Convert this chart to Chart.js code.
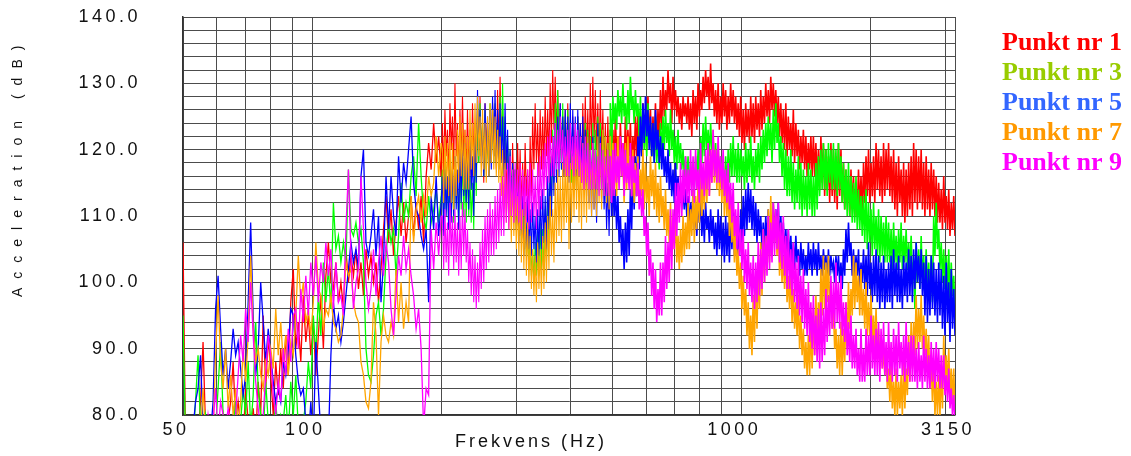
<!DOCTYPE html>
<html>
<head>
<meta charset="utf-8">
<script src="https://cdn.jsdelivr.net/npm/chart.js@4.4.1/dist/chart.umd.min.js"></script>
<style>
  html, body { margin: 0; padding: 0; background: #ffffff; }
  canvas { display: block; }
</style>
</head>
<body>
<canvas id="spectrum" width="1131" height="456"></canvas>
<script>
// Measurement points and their colours
const seriesNames = ['Punkt nr 1', 'Punkt nr 3', 'Punkt nr 5', 'Punkt nr 7', 'Punkt nr 9'];
const lineColours = ['#ff0000', '#00ff00', '#0000ff', '#ffa500', '#ff00ff'];
const legendColours = ['#ff0000', '#99cc00', '#3366ff', '#ff9900', '#ff00ff'];

// Axis ticks
const xGridValues = [50, 60, 70, 80, 90, 100, 200, 300, 400, 500, 600, 700, 800, 900, 1000, 2000, 3000, 3150];
const xLabelValues = [50, 100, 1000, 3150];
const yMin = 80, yMax = 140, yGridStep = 2, yLabelStep = 10;

// Analysis frequencies (Hz), log-spaced 50-3150 Hz in 308 steps;
// half-step resolution above ~200 Hz
const binFreq = (k) => 50 * Math.pow(3150 / 50, k / 308);
const freqHz = [
  ...Array.from({ length: 104 }, (_, i) => binFreq(i)),
  ...Array.from({ length: 136 }, (_, j) => binFreq(103 + (j + 1) / 2)),
  ...Array.from({ length: 274 }, (_, j) => binFreq(171 + (j + 1) / 2))
];

// Acceleration levels (dB) per bin
const punkt1 = [
  106, 76, 76, 78, 76, 79, 77, 82, 91, 78,
  77, 76, 79, 76, 78, 77, 80, 76, 79, 82,
  88, 79, 82, 78, 76, 84, 79, 77, 81, 76,
  85, 80, 95, 84, 92, 86, 80, 88, 83, 90,
  84, 92, 86, 97, 102, 90, 94, 88, 98, 91,
  95, 89, 94, 86, 92, 98, 90, 101, 106, 100,
  99, 103, 97, 100, 96, 105, 100, 104, 101, 105,
  99, 103, 98, 105, 101, 104, 100, 103, 97, 102,
  108, 113, 106, 111, 104, 109, 113, 107, 112, 106,
  110, 113, 107, 112, 108, 113, 106, 116, 121, 117,
  124, 118, 122, 116,

  124, 116, 126, 119, 123, 115, 127, 120, 125, 117, 130, 119, 124, 116, 126, 118, 128, 119, 123, 116,
  126, 117, 122, 115, 127, 119, 124, 116, 126, 118, 128, 119, 123, 115, 127, 120, 124, 116, 126, 118,
  127, 119, 124, 117, 129, 120, 131, 121, 126, 117, 121, 113, 120, 112, 118, 110, 121, 113, 117, 110,
  121, 112, 120, 111, 118, 110, 121, 113, 117, 109, 122, 113, 125, 117, 127, 118, 124, 116, 126, 117,
  125, 117, 128, 119, 126, 118, 130, 121, 132, 123, 131, 122, 129, 120, 127, 118, 125, 116, 126, 117,
  127, 118, 124, 116, 125, 115, 123, 114, 125, 116, 124, 115, 127, 118, 128, 119, 126, 117, 130, 120,
  131, 121, 129, 120, 127, 118, 129, 119, 126, 117, 124, 116, 125, 115, 123, 116,

  123, 117, 125, 119, 122, 116, 124, 118, 121, 117, 125, 118, 123, 119, 124, 117, 122, 118, 125, 119,
  126, 120, 124, 119, 127, 121, 125, 120, 128, 121, 126, 119, 125, 121, 127, 120, 126, 122, 129, 123,
  131, 125, 129, 126, 132, 127, 130, 124, 131, 126, 129, 125, 128, 124, 127, 123, 128, 125, 127, 124,
  128, 123, 127, 122, 129, 124, 128, 123, 130, 125, 129, 126, 131, 127, 132, 128, 131, 126, 133, 127,
  130, 125, 129, 124, 130, 123, 128, 124, 130, 125, 129, 123, 128, 124, 130, 125, 129, 124, 128, 123,
  127, 122, 128, 121, 126, 120, 127, 122, 126, 121, 128, 122, 127, 121, 128, 123, 127, 122, 129, 123,
  128, 124, 130, 125, 129, 124, 131, 126, 130, 125, 129, 124, 128, 122, 127, 121, 126, 120, 127, 119,
  125, 120, 124, 119, 126, 118, 124, 119, 123, 117, 122, 118, 123, 117, 122, 116, 121, 117, 122, 116,
  122, 116, 121, 115, 120, 114, 122, 115, 121, 113, 120, 114, 119, 112, 121, 113, 120, 112, 119, 111,
  121, 113, 120, 112, 118, 111, 117, 112, 116, 110, 117, 111, 116, 110, 115, 110, 117, 111, 116, 110,
  118, 112, 119, 113, 120, 112, 118, 113, 119, 112, 121, 114, 120, 113, 119, 112, 121, 113, 120, 114,
  121, 113, 119, 112, 120, 111, 118, 110, 119, 112, 117, 110, 118, 109, 117, 110, 118, 111, 119, 110,
  121, 112, 120, 111, 119, 112, 120, 111, 118, 110, 119, 111, 117, 110, 118, 111, 117, 110, 116, 109,
  115, 109, 114, 108, 116, 109, 113, 108, 114, 107, 112, 108, 113, 107
];
const punkt3 = [
  95, 76, 77, 79, 76, 82, 89, 78, 76, 80,
  77, 79, 76, 78, 84, 91, 80, 77, 76, 79,
  78, 82, 76, 79, 84, 80, 88, 78, 83, 94,
  84, 80, 77, 85, 79, 76, 78, 82, 77, 80,
  79, 83, 77, 85, 80, 86, 78, 76, 79, 82,
  88, 84, 95, 89, 98, 92, 103, 97, 102, 96,
  112, 105, 107, 103, 106, 103, 117, 108, 107, 109,
  106, 108, 103, 90, 86, 85, 89, 95, 97, 92,
  96, 104, 109, 106, 108, 101, 107, 115, 109, 112,
  110, 116, 119, 113, 124, 116, 110, 108, 113, 109,
  111, 114, 109, 113,

  117, 109, 119, 111, 116, 108, 118, 110, 117, 109, 119, 112, 116, 108, 118, 111, 119, 110, 117, 109,
  118, 110, 116, 109, 115, 108, 121, 113, 126, 118, 127, 119, 124, 116, 126, 117, 123, 116, 127, 118,
  126, 118, 127, 119, 124, 117, 128, 119, 130, 120, 125, 117, 122, 114, 120, 111, 118, 110, 116, 108,
  115, 107, 116, 106, 112, 105, 111, 104, 108, 102, 107, 101, 105, 100, 106, 101, 108, 101, 109, 102,
  108, 101, 111, 103, 114, 106, 119, 111, 123, 115, 127, 118, 129, 120, 126, 117, 127, 118, 125, 116,
  126, 117, 124, 115, 123, 114, 122, 114, 125, 116, 123, 115, 122, 114, 124, 115, 123, 114, 122, 113,
  124, 115, 123, 114, 125, 116, 124, 115, 123, 115, 122, 114, 121, 113, 127, 119,

  128, 124, 127, 123, 129, 125, 128, 124, 130, 125, 127, 123, 129, 124, 131, 126, 128, 124, 129, 125,
  127, 122, 128, 121, 126, 120, 125, 119, 127, 121, 124, 119, 123, 118, 125, 118, 122, 117, 124, 119,
  125, 120, 126, 121, 124, 119, 126, 120, 123, 118, 122, 117, 123, 118, 121, 117, 120, 116, 119, 115,
  119, 114, 118, 115, 117, 114, 119, 115, 120, 116, 122, 118, 124, 119, 125, 120, 123, 119, 124, 120,
  122, 117, 121, 116, 120, 115, 119, 114, 118, 113, 119, 114, 120, 115, 121, 116, 122, 116, 120, 115,
  121, 115, 120, 116, 119, 114, 121, 115, 120, 116, 122, 115, 119, 114, 120, 116, 121, 115, 122, 117,
  123, 118, 124, 119, 125, 120, 124, 118, 126, 120, 127, 121, 124, 118, 122, 116, 121, 114, 120, 113,
  119, 113, 120, 112, 118, 111, 117, 112, 119, 111, 118, 110, 117, 111, 116, 110, 118, 111, 117, 110,
  116, 110, 118, 111, 119, 113, 120, 114, 121, 114, 120, 113, 121, 115, 120, 114, 121, 114, 120, 113,
  121, 114, 119, 112, 118, 111, 117, 110, 118, 110, 116, 109, 115, 109, 116, 108, 114, 108, 113, 107,
  113, 106, 114, 105, 112, 106, 111, 104, 112, 105, 110, 104, 111, 103, 110, 104, 109, 103, 110, 103,
  109, 103, 108, 102, 109, 103, 107, 102, 108, 103, 109, 102, 107, 103, 108, 102, 106, 102, 107, 101,
  103, 96, 106, 100, 105, 99, 107, 100, 104, 99, 105, 98, 103, 98, 104, 97, 110, 104, 112, 105,
  108, 102, 106, 100, 105, 99, 104, 98, 105, 97, 103, 98, 101, 96
];
const punkt5 = [
  76, 77, 79, 76, 78, 82, 84, 89, 78, 76,
  79, 77, 82, 96, 101, 93, 86, 90, 84, 88,
  93, 89, 91, 87, 83, 86, 97, 109, 95, 86,
  90, 100, 94, 88, 93, 89, 85, 82, 84, 82,
  88, 86, 90, 96, 95, 89, 85, 83, 84, 79,
  76, 82, 76, 91, 84, 77, 76, 79, 76, 89,
  97, 93, 95, 91, 94, 98, 102, 106, 103, 105,
  102, 116, 120, 106, 104, 107, 111, 104, 110, 97,
  103, 116, 108, 116, 110, 107, 119, 112, 118, 115,
  120, 125, 115, 111, 110, 107, 105, 108, 97, 113,
  108, 116, 107, 112,

  116, 107, 117, 110, 116, 108, 117, 109, 118, 110, 119, 111, 117, 108, 120, 112, 122, 113, 121, 112,
  120, 111, 123, 114, 119, 110, 123, 115, 129, 120, 126, 118, 124, 116, 127, 118, 125, 116, 126, 117,
  128, 119, 129, 118, 126, 117, 127, 118, 125, 116, 127, 117, 123, 113, 120, 110, 118, 109, 117, 108,
  115, 106, 116, 107, 113, 104, 112, 105, 113, 105, 111, 104, 112, 105, 110, 103, 111, 104, 113, 105,
  114, 106, 113, 105, 116, 108, 118, 110, 122, 113, 124, 115, 125, 116, 127, 117, 125, 116, 126, 117,
  125, 115, 127, 117, 126, 116, 125, 116, 126, 117, 124, 115, 125, 114, 123, 113, 122, 112, 120, 110,
  122, 111, 118, 109, 124, 114, 122, 112, 120, 111, 117, 108, 115, 107, 119, 110,

  116, 110, 114, 108, 113, 106, 110, 104, 108, 102, 109, 103, 111, 104, 114, 108, 117, 111, 119, 113,
  122, 117, 125, 119, 127, 121, 128, 122, 126, 120, 125, 119, 124, 118, 126, 120, 123, 118, 122, 117,
  121, 116, 119, 115, 120, 114, 118, 113, 117, 112, 118, 113, 116, 112, 115, 111, 114, 111, 114, 110,
  113, 108, 112, 109, 114, 108, 111, 107, 113, 109, 112, 107, 111, 106, 112, 108, 110, 106, 111, 107,
  110, 105, 109, 104, 111, 105, 110, 104, 109, 103, 110, 104, 109, 103, 110, 105, 111, 104, 110, 103,
  109, 104, 111, 105, 113, 107, 114, 108, 115, 109, 114, 108, 113, 107, 112, 106, 111, 107, 110, 105,
  109, 105, 110, 106, 111, 104, 110, 105, 112, 106, 111, 107, 112, 106, 110, 105, 109, 104, 108, 104,
  108, 103, 107, 102, 106, 102, 107, 103, 105, 101, 106, 102, 105, 101, 104, 101, 106, 102, 105, 101,
  106, 102, 105, 101, 106, 102, 104, 101, 105, 102, 104, 100, 105, 101, 104, 102, 103, 100, 104, 101,
  104, 100, 103, 99, 105, 101, 108, 103, 109, 104, 106, 101, 105, 100, 104, 101, 105, 99, 103, 100,
  105, 99, 104, 98, 106, 99, 103, 97, 104, 98, 105, 97, 104, 96, 103, 97, 104, 96, 102, 97,
  103, 97, 104, 96, 105, 98, 103, 97, 104, 97, 102, 96, 104, 98, 103, 97, 105, 98, 104, 97,
  105, 99, 106, 100, 104, 99, 105, 98, 103, 95, 104, 94, 102, 95, 104, 96, 103, 95, 102, 94,
  103, 95, 102, 93, 101, 92, 103, 94, 100, 91, 102, 93, 99, 92
];
const punkt7 = [
  76, 78, 76, 77, 79, 76, 78, 77, 84, 77,
  76, 79, 77, 89, 98, 88, 84, 90, 81, 86,
  80, 84, 78, 82, 90, 85, 92, 104, 93, 88,
  90, 86, 84, 88, 86, 90, 87, 96, 89, 94,
  88, 92, 86, 91, 89, 95, 104, 97, 100, 94,
  96, 92, 97, 106, 99, 98, 93, 96, 95, 98,
  94, 93, 91, 92, 96, 103, 101, 102, 97, 95,
  94, 88, 86, 82, 81, 85, 97, 92, 80, 91,
  95, 92, 91, 94, 92, 102, 94, 100, 93, 97,
  94, 113, 106, 111, 113, 109, 113, 110, 116, 113,
  115, 122, 116, 121,

  120, 112, 122, 114, 121, 113, 122, 112, 121, 111, 120, 113, 123, 115, 125, 116, 124, 114, 123, 114,
  122, 114, 126, 117, 124, 116, 127, 118, 128, 119, 125, 116, 126, 117, 124, 115, 125, 116, 127, 118,
  126, 117, 125, 116, 123, 115, 122, 113, 120, 111, 118, 109, 117, 108, 115, 106, 116, 107, 114, 105,
  113, 104, 114, 103, 111, 102, 112, 101, 109, 100, 107, 99, 105, 98, 104, 97, 106, 99, 105, 98,
  107, 99, 109, 100, 110, 102, 113, 104, 111, 103, 115, 106, 117, 107, 116, 106, 118, 108, 119, 109,
  120, 105, 118, 109, 119, 110, 121, 111, 120, 109, 119, 108, 121, 110, 120, 109, 122, 111, 120, 110,
  121, 111, 120, 110, 122, 112, 121, 111, 123, 113, 122, 112, 121, 111, 122, 113,

  121, 114, 119, 113, 122, 115, 120, 116, 118, 112, 121, 114, 122, 115, 119, 113, 120, 112, 118, 113,
  119, 112, 117, 113, 120, 111, 118, 112, 116, 110, 119, 113, 117, 111, 118, 110, 115, 109, 116, 110,
  113, 108, 114, 107, 111, 106, 112, 104, 109, 105, 110, 103, 107, 102, 108, 103, 110, 104, 109, 105,
  112, 105, 111, 107, 114, 106, 113, 108, 115, 109, 117, 110, 116, 111, 119, 112, 121, 113, 120, 115,
  123, 115, 120, 114, 121, 113, 118, 112, 119, 110, 116, 110, 115, 107, 112, 106, 110, 103, 108, 101,
  105, 99, 103, 96, 101, 95, 99, 92, 97, 90, 95, 89, 98, 91, 101, 93, 102, 96, 106, 98,
  108, 100, 107, 102, 111, 103, 113, 104, 112, 106, 110, 104, 109, 101, 106, 100, 104, 99, 105, 97,
  101, 96, 102, 94, 99, 93, 97, 92, 98, 90, 95, 89, 93, 87, 91, 86, 92, 86, 94, 87,
  96, 89, 98, 91, 97, 93, 102, 95, 104, 96, 103, 97, 104, 96, 99, 93, 96, 90, 93, 87,
  92, 86, 94, 86, 93, 88, 97, 90, 100, 93, 99, 95, 104, 96, 103, 97, 101, 95, 102, 95,
  99, 93, 100, 92, 97, 92, 98, 91, 95, 90, 96, 89, 93, 88, 92, 87, 90, 86, 89, 84,
  87, 82, 88, 81, 85, 80, 87, 80, 85, 81, 86, 80, 88, 81, 87, 83, 92, 85, 94, 87,
  94, 89, 98, 90, 96, 91, 98, 90, 95, 89, 93, 87, 92, 84, 88, 82, 88, 80, 85, 80,
  86, 80, 87, 81, 92, 85, 89, 84, 90, 83, 87, 82, 87, 80
];
const punkt9 = [
  76, 77, 76, 78, 76, 79, 77, 76, 78, 76,
  80, 77, 79, 84, 77, 82, 80, 78, 81, 79,
  77, 80, 86, 92, 88, 96, 91, 100, 92, 85,
  81, 78, 80, 86, 92, 89, 83, 80, 85, 82,
  90, 86, 93, 88, 95, 96, 90, 99, 94, 101,
  95, 103, 98, 104, 97, 103, 100, 106, 101, 105,
  96, 103, 97, 98, 95, 108, 117, 104, 96, 100,
  102, 116, 108, 100, 96, 99, 105, 98, 103, 107,
  101, 106, 103, 96, 92, 98, 104, 101, 107, 102,
  105, 101, 98, 93, 96, 90, 78, 84, 83, 108,
  102, 109, 104, 110,

  110, 102, 111, 103, 109, 101, 112, 104, 110, 102, 111, 103, 109, 101, 110, 102, 112, 104, 111, 103,
  108, 100, 106, 98, 105, 97, 104, 96, 103, 97, 106, 99, 108, 100, 110, 102, 111, 103, 112, 104,
  111, 104, 113, 105, 114, 106, 115, 107, 116, 107, 117, 109, 118, 108, 119, 110, 117, 109, 118, 110,
  117, 109, 118, 108, 117, 110, 116, 109, 117, 108, 118, 109, 117, 110, 116, 108, 118, 110, 119, 111,
  120, 113, 121, 114, 122, 115, 123, 116, 122, 116, 124, 117, 123, 117, 125, 118, 123, 117, 122, 116,
  123, 116, 124, 117, 122, 116, 124, 117, 123, 116, 122, 115, 121, 114, 122, 115, 121, 114, 120, 114,
  121, 114, 120, 114, 119, 113, 121, 114, 120, 113, 119, 113, 120, 113, 119, 112,

  120, 113, 121, 115, 119, 114, 122, 116, 121, 113, 120, 115, 118, 114, 121, 113, 119, 115, 117, 113,
  118, 111, 114, 110, 114, 107, 110, 104, 109, 101, 105, 98, 103, 96, 102, 94, 99, 95, 103, 95,
  103, 97, 107, 99, 106, 100, 111, 102, 111, 105, 115, 107, 115, 109, 118, 110, 117, 112, 119, 112,
  117, 112, 120, 113, 119, 112, 120, 114, 117, 112, 121, 114, 118, 113, 120, 114, 121, 113, 120, 115,
  123, 116, 120, 115, 122, 115, 119, 114, 120, 113, 117, 112, 118, 111, 115, 109, 115, 107, 111, 105,
  112, 104, 108, 102, 108, 100, 105, 99, 106, 98, 103, 97, 104, 96, 103, 97, 106, 98, 105, 99,
  108, 100, 107, 101, 110, 102, 109, 103, 112, 104, 111, 105, 112, 103, 109, 102, 110, 101, 107, 99,
  108, 99, 105, 98, 106, 97, 103, 96, 104, 95, 101, 94, 102, 93, 99, 92, 100, 91, 97, 90,
  98, 89, 95, 88, 96, 87, 97, 88, 96, 89, 99, 91, 98, 92, 101, 93, 100, 93, 103, 94,
  100, 93, 101, 92, 97, 91, 97, 89, 94, 88, 95, 87, 92, 87, 93, 86, 90, 85, 93, 85,
  90, 85, 93, 86, 92, 86, 95, 87, 92, 86, 93, 86, 94, 85, 93, 87, 94, 86, 91, 85,
  94, 86, 91, 85, 93, 86, 92, 85, 94, 87, 91, 86, 92, 85, 94, 86, 91, 85, 92, 85,
  92, 85, 90, 84, 91, 85, 89, 84, 92, 85, 90, 84, 89, 84, 91, 85, 90, 84, 91, 85,
  90, 84, 89, 84, 89, 83, 86, 82, 87, 81, 84, 80, 83, 79
];
const seriesValues = [punkt1, punkt3, punkt5, punkt7, punkt9];

const tickFont = { family: 'Liberation Sans', size: 18 };
const gridColour = '#4c4c4c';

// Trace width by frequency band
function traceWidth(ctx) {
  const f = ctx.p0.parsed.x;
  if (f < 199) return 1.3;
  if (f < 495) return 1.1;
  return 1.6;
}

// Titles, legend and wide-spaced lettering drawn onto the canvas
const spectrumText = {
  id: 'spectrumText',
  beforeDraw(chart) {
    chart.ctx.letterSpacing = '3.5px';
  },
  afterDraw(chart) {
    const ctx = chart.ctx;
    const area = chart.chartArea;
    ctx.save();
    ctx.letterSpacing = '0px';
    ctx.font = 'bold 26px "Liberation Serif"';
    ctx.textAlign = 'left';
    ctx.textBaseline = 'alphabetic';
    seriesNames.forEach((name, k) => {
      ctx.fillStyle = legendColours[k];
      ctx.fillText(name, area.right + 47, area.top + 33 + 30 * k);
    });

    ctx.fillStyle = '#111111';
    ctx.font = '18px "Liberation Sans"';
    ctx.letterSpacing = '3px';
    ctx.fillText('Frekvens (Hz)', 455, area.bottom + 32);

    ctx.translate(18, 297);
    ctx.rotate(-Math.PI / 2);
    ctx.font = '14px "Liberation Sans"';
    ctx.letterSpacing = '9px';
    ctx.textBaseline = 'middle';
    ctx.fillText('Acceleration (dB)', 0, 0);
    ctx.restore();
  }
};

new Chart(document.getElementById('spectrum'), {
  type: 'line',
  data: {
    datasets: seriesNames.map((name, k) => ({
      label: name,
      data: seriesValues[k].map((v, i) => ({ x: freqHz[i], y: v })),
      borderColor: lineColours[k],
      borderWidth: 1.3,
      segment: { borderWidth: traceWidth },
      pointRadius: 0,
      tension: 0,
      fill: false,
      order: seriesNames.length - k
    }))
  },
  options: {
    responsive: false,
    animation: false,
    devicePixelRatio: 1,
    layout: { padding: { left: 0, top: 17, right: 176, bottom: 0 } },
    plugins: { legend: { display: false }, tooltip: { enabled: false } },
    scales: {
      x: {
        type: 'logarithmic',
        min: 50,
        max: 3150,
        afterBuildTicks: (scale) => { scale.ticks = xGridValues.map(v => ({ value: v })); },
        afterFit: (scale) => { scale.height = 41; },
        ticks: {
          autoSkip: false,
          maxRotation: 0,
          minRotation: 0,
          padding: 4,
          labelOffset: -7,
          color: '#111111',
          font: tickFont,
          callback: (v) => (xLabelValues.includes(v) ? String(v) : '')
        },
        grid: { color: gridColour, lineWidth: 1, drawTicks: false },
        border: { display: true, color: '#333333', width: 1.5 }
      },
      y: {
        min: yMin,
        max: yMax,
        afterFit: (scale) => {
          scale.width = 183;
          scale.paddingTop = 0;
          scale.paddingBottom = 0;
        },
        ticks: {
          stepSize: yGridStep,
          autoSkip: false,
          padding: 42,
          color: '#111111',
          font: tickFont,
          callback: (v) => (v % yLabelStep === 0 ? v.toFixed(1) : '')
        },
        grid: { color: gridColour, lineWidth: 1, drawTicks: false },
        border: { display: true, color: '#333333', width: 1.5 }
      }
    }
  },
  plugins: [spectrumText]
});
</script>
</body>
</html>
